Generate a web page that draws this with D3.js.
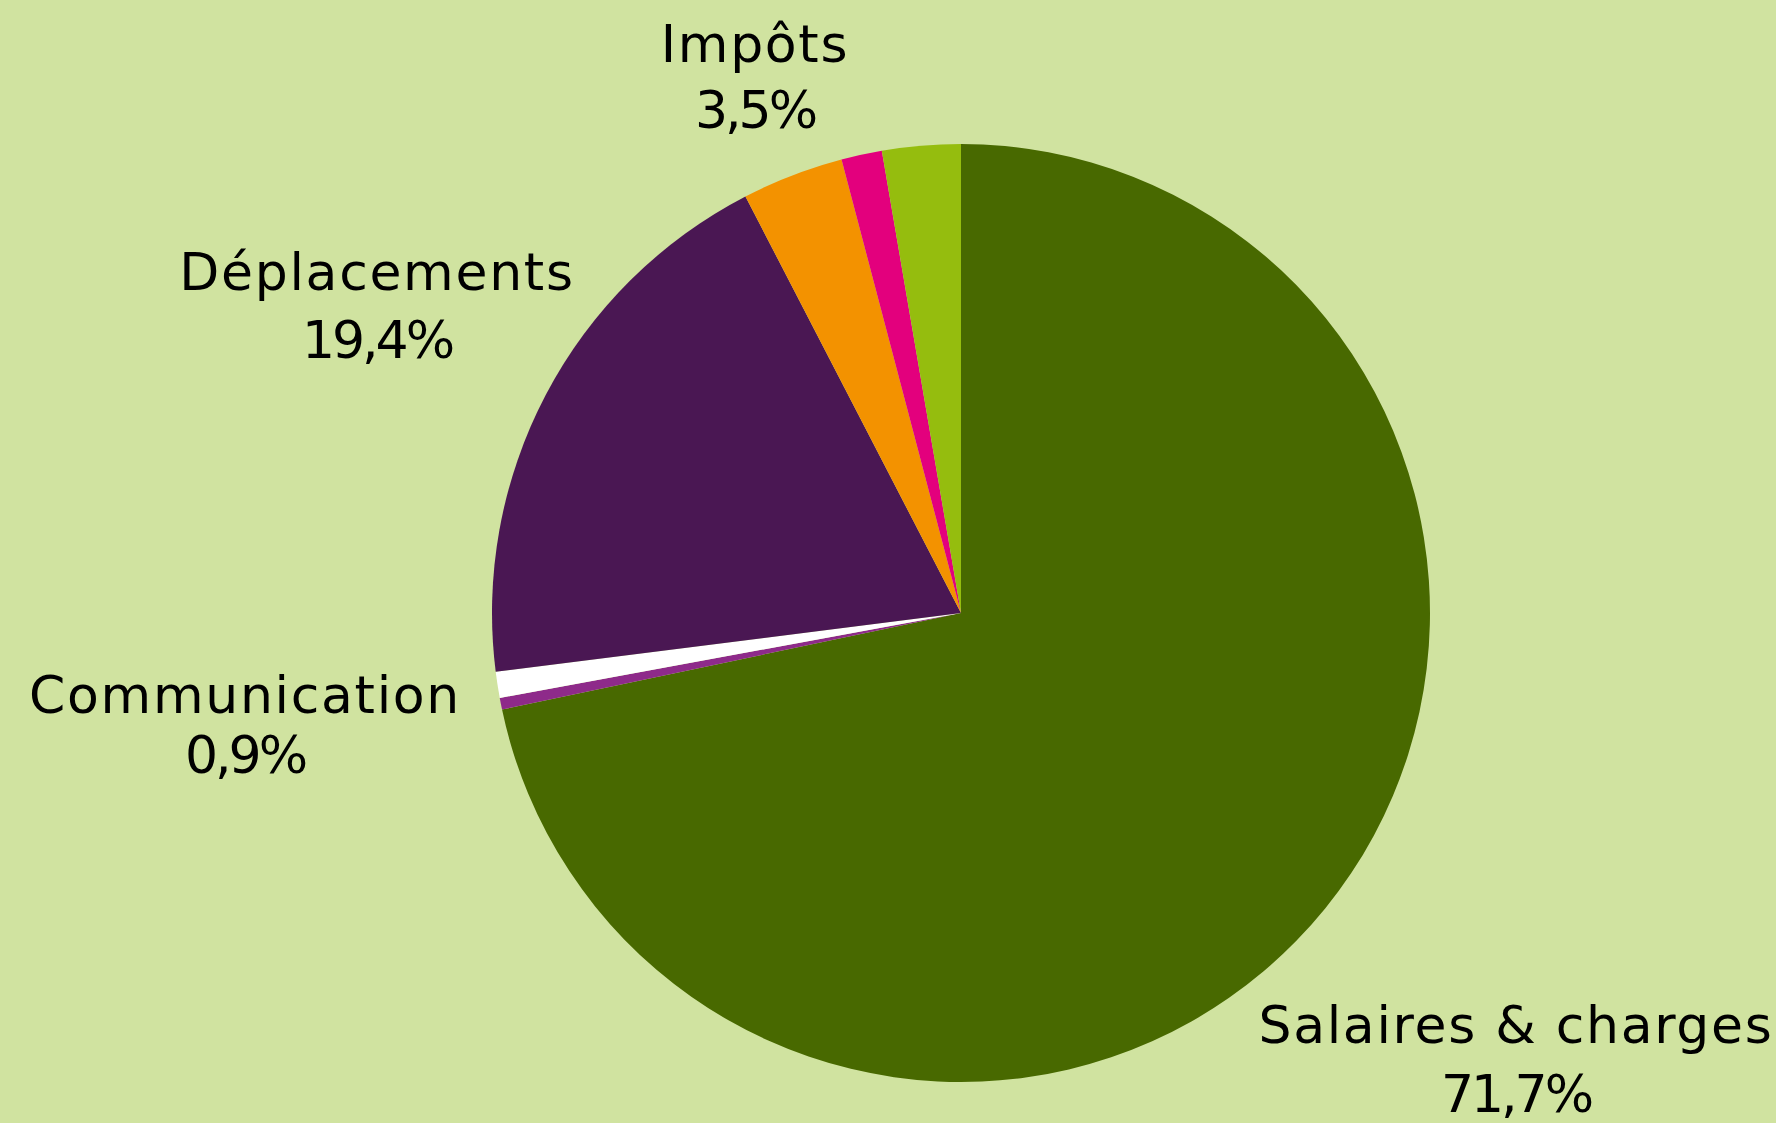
<!DOCTYPE html>
<html><head><meta charset="utf-8">
<script src="https://cdn.jsdelivr.net/npm/d3@7"></script>
<style>html,body{margin:0;padding:0;background:#d0e3a0;}svg{display:block;}</style>
</head><body><svg id="c" width="1776" height="1123"></svg>
<script>
const categories = ["Salaires & charges", "Autre A", "Communication", "Déplacements", "Impôts", "Autre B", "Autre C"];
const values = [71.7, 0.4, 0.9, 19.4, 3.5, 1.4, 2.7];
const showLabel = [true, false, true, true, true, false, false];
const valueLabels = ["71,7%", "", "0,9%", "19,4%", "3,5%", "", ""];
const colors = ["#486900", "#8e2a8a", "#ffffff", "#4a1753", "#f39200", "#e3007d", "#95bd0e"];
// label anchor points (center x, first baseline y, second baseline y)
const labelPos = [[1516, 1043, 1112], null, [245, 713, 773], [377, 290, 358], [755, 62, 128], null, null];

const svg = d3.select("#c");
svg.append("rect").attr("width", 1776).attr("height", 1123).attr("fill", "#d0e3a0");
const cx = 961, cy = 613, r = 469;
const data = categories.map((c, i) => ({cat: c, v: values[i], i}));
const pie = d3.pie().value(d => d.v).sort(null);
const arc = d3.arc().innerRadius(0).outerRadius(r);
const g = svg.append("g").attr("transform", `translate(${cx},${cy})`);
g.selectAll("path").data(pie(data)).join("path")
  .attr("d", arc).attr("fill", d => colors[d.data.i]);

const lg = svg.append("g").attr("font-family", "'DejaVu Sans', sans-serif")
  .attr("font-size", 52).attr("fill", "#000").attr("text-anchor", "middle");
data.forEach((d, i) => {
  if (!showLabel[i]) return;
  const p = labelPos[i];
  lg.append("text").attr("x", p[0]).attr("y", p[1]).attr("letter-spacing", "1.7").text(d.cat);
  lg.append("text").attr("x", p[0]).attr("y", p[2]).attr("letter-spacing", "-3").text(valueLabels[i]);
});
</script></body></html>
